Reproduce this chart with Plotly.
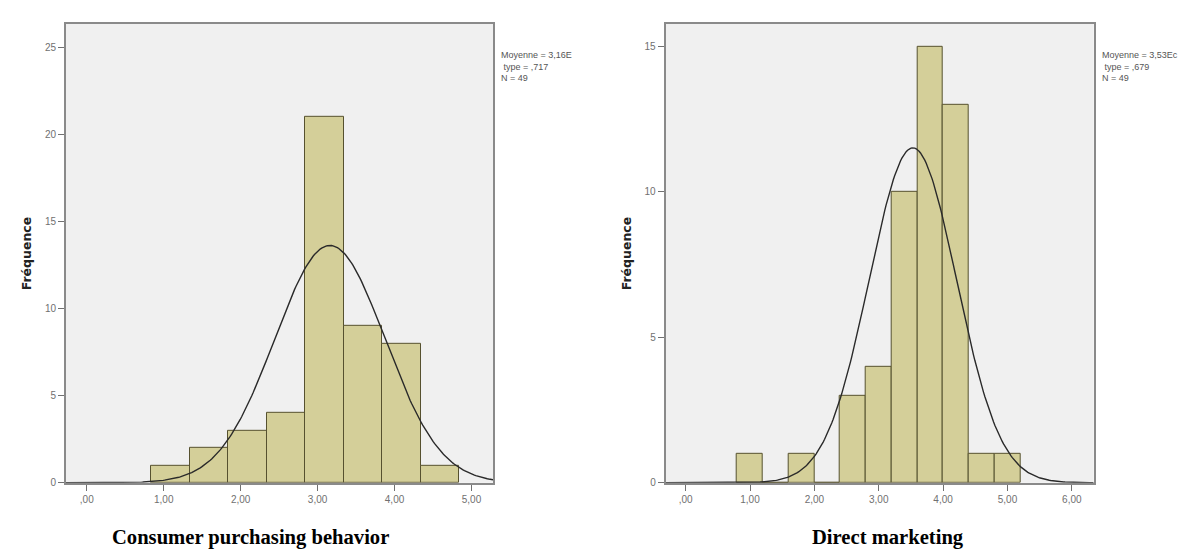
import numpy as np
import plotly.graph_objects as go

# ---- data ----
cpb_centers = [1.09, 1.59, 2.09, 2.59, 3.09, 3.59, 4.09, 4.59]
cpb_counts = [1, 2, 3, 4, 21, 9, 8, 1]
cpb_binwidth = 0.5
cpb_mean, cpb_sd, cpb_n = 3.16, 0.717, 49

dm_centers = [1.0, 1.4, 1.8, 2.2, 2.6, 3.0, 3.4, 3.8, 4.2, 4.6, 5.0]
dm_counts = [1, 0, 1, 0, 3, 4, 10, 15, 13, 1, 1]
dm_binwidth = 0.4
dm_mean, dm_sd, dm_n = 3.53, 0.679, 49

cpb_xticks = [0, 1, 2, 3, 4, 5]
cpb_xlabels = [",00", "1,00", "2,00", "3,00", "4,00", "5,00"]
dm_xticks = [0, 1, 2, 3, 4, 5, 6]
dm_xlabels = [",00", "1,00", "2,00", "3,00", "4,00", "5,00", "6,00"]
cpb_yticks = [0, 5, 10, 15, 20, 25]
dm_yticks = [0, 5, 10, 15]

cpb_stats = "Moyenne = 3,16E<br> type = ,717<br>N = 49"
dm_stats = "Moyenne = 3,53Ec<br> type = ,679<br>N = 49"
titles = ["Consumer purchasing behavior", "Direct marketing"]
ytitle = "Fréquence"

W, H = 1187, 555
BAR_FILL = "#d4cf99"
BAR_LINE = "#56512f"
BG = "#f0f0f0"
FRAME = "#8a8a8a"
TICKC = "#707070"


def normal_curve(mean, sd, n, bw, lo, hi):
    xs = np.linspace(lo, hi, 300)
    ys = n * bw / (sd * np.sqrt(2 * np.pi)) * np.exp(-0.5 * ((xs - mean) / sd) ** 2)
    return xs, ys


fig = go.Figure()

cpb_xrange = [-0.27, 5.28]
dm_xrange = [-0.31, 6.34]

fig.add_trace(go.Bar(x=cpb_centers, y=cpb_counts, width=cpb_binwidth,
                     marker=dict(color=BAR_FILL, line=dict(color=BAR_LINE, width=1)),
                     xaxis="x", yaxis="y", showlegend=False))
cx, cy = normal_curve(cpb_mean, cpb_sd, cpb_n, cpb_binwidth, cpb_xrange[0], cpb_xrange[1])
fig.add_trace(go.Scatter(x=cx, y=cy, mode="lines", line=dict(color="#2a2a2a", width=1.4),
                         xaxis="x", yaxis="y", showlegend=False, cliponaxis=True))

fig.add_trace(go.Bar(x=dm_centers, y=dm_counts, width=dm_binwidth,
                     marker=dict(color=BAR_FILL, line=dict(color=BAR_LINE, width=1)),
                     xaxis="x2", yaxis="y2", showlegend=False))
dx, dy = normal_curve(dm_mean, dm_sd, dm_n, dm_binwidth, dm_xrange[0], dm_xrange[1])
fig.add_trace(go.Scatter(x=dx, y=dy, mode="lines", line=dict(color="#2a2a2a", width=1.4),
                         xaxis="x2", yaxis="y2", showlegend=False, cliponaxis=True))

ydom = [(H - 480) / H, (H - 16) / H]
tickfont = dict(family="Arial, Liberation Sans, sans-serif", size=10, color=TICKC)
common_x = dict(showgrid=False, zeroline=False, showline=True, linecolor=FRAME, linewidth=2,
                mirror=True, ticks="outside", ticklen=6, tickcolor=TICKC, tickwidth=1,
                tickfont=tickfont, fixedrange=True)
common_y = dict(showgrid=False, zeroline=False, showline=True, linecolor=FRAME, linewidth=2,
                mirror=True, ticks="outside", ticklen=6, tickcolor=TICKC, tickwidth=1,
                tickfont=tickfont, fixedrange=True, domain=ydom, ticksuffix=" ")

fig.update_layout(
    width=W, height=H,
    margin=dict(l=0, r=0, t=0, b=0),
    paper_bgcolor="white",
    plot_bgcolor=BG,
    bargap=0,
    xaxis=dict(common_x, domain=[58 / W, 485 / W], range=cpb_xrange,
               tickvals=cpb_xticks, ticktext=cpb_xlabels, anchor="y"),
    yaxis=dict(common_y, range=[0, 26.36], tickvals=cpb_yticks, anchor="x"),
    xaxis2=dict(common_x, domain=[657.7 / W, 1085.7 / W], range=dm_xrange,
                tickvals=dm_xticks, ticktext=dm_xlabels, anchor="y2"),
    yaxis2=dict(common_y, range=[0, 15.78], tickvals=dm_yticks, anchor="x2"),
)

yfont = dict(family="DejaVu Sans, Arial, sans-serif", size=12.5, color="#222")
for xpx in (18, 618):
    fig.add_annotation(text="<b>" + ytitle + "</b>", xref="paper", yref="paper",
                       x=xpx / W, y=(H - 248) / H, xanchor="center", yanchor="middle",
                       textangle=-90, showarrow=False, font=yfont)

statfont = dict(family="Arial, Liberation Sans, sans-serif", size=9, color="#555")
fig.add_annotation(text=cpb_stats, xref="paper", yref="paper", x=491 / W, y=(H - 40) / H,
                   xanchor="left", yanchor="top", align="left", showarrow=False, font=statfont)
fig.add_annotation(text=dm_stats, xref="paper", yref="paper", x=1092 / W, y=(H - 40) / H,
                   xanchor="left", yanchor="top", align="left", showarrow=False, font=statfont)

titlefont = dict(family="Times New Roman, Liberation Serif, serif", size=20.6, color="black")
fig.add_annotation(text="<b>" + titles[0] + "</b>", xref="paper", yref="paper", x=242 / W,
                   y=(H - 535) / H, xanchor="center", yanchor="middle", showarrow=False, font=titlefont)
fig.add_annotation(text="<b>" + titles[1] + "</b>", xref="paper", yref="paper", x=880 / W,
                   y=(H - 535) / H, xanchor="center", yanchor="middle", showarrow=False, font=titlefont)

fig.write_html("out.html")
